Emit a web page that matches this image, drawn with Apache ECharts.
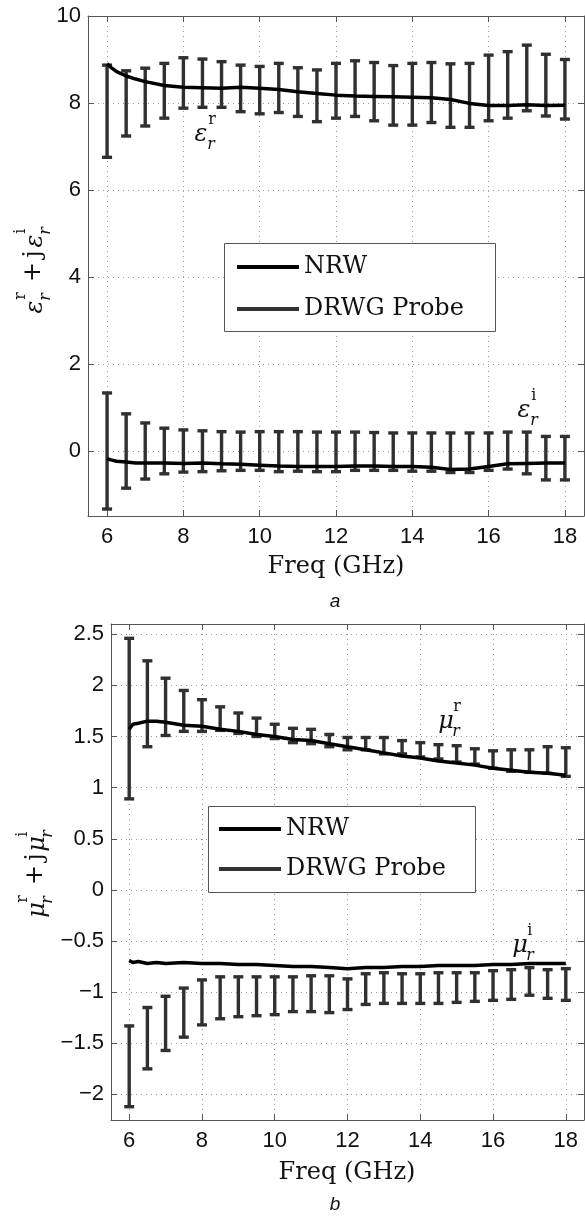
<!DOCTYPE html>
<html><head><meta charset="utf-8">
<script src="https://cdn.jsdelivr.net/npm/echarts@6/dist/echarts.min.js"></script>
<style>html,body{margin:0;padding:0;background:#fff}#c{width:585px;height:1216px}</style>
</head><body><div id="c"></div>
<script>
// ---------- data ----------
const barFreq = [6, 6.5, 7, 7.5, 8, 8.5, 9, 9.5, 10, 10.5, 11, 11.5, 12, 12.5, 13, 13.5, 14, 14.5, 15, 15.5, 16, 16.5, 17, 17.5, 18];
// DRWG Probe (error bars): permittivity
const epsRealHigh = [8.87, 8.74, 8.80, 8.91, 9.04, 9.01, 8.95, 8.87, 8.84, 8.91, 8.81, 8.76, 8.91, 8.97, 8.93, 8.86, 8.91, 8.93, 8.90, 8.91, 9.10, 9.18, 9.33, 9.12, 9.00];
const epsRealLow  = [6.75, 7.24, 7.47, 7.65, 7.88, 7.90, 7.90, 7.80, 7.75, 7.78, 7.69, 7.57, 7.65, 7.69, 7.59, 7.49, 7.49, 7.55, 7.44, 7.44, 7.59, 7.65, 7.82, 7.70, 7.63];
const epsImagHigh = [1.33, 0.85, 0.64, 0.52, 0.48, 0.46, 0.44, 0.43, 0.44, 0.44, 0.44, 0.43, 0.43, 0.43, 0.42, 0.41, 0.41, 0.41, 0.41, 0.41, 0.41, 0.43, 0.43, 0.33, 0.33];
const epsImagLow  = [-1.34, -0.86, -0.65, -0.53, -0.49, -0.48, -0.46, -0.45, -0.45, -0.48, -0.47, -0.48, -0.48, -0.45, -0.45, -0.45, -0.47, -0.47, -0.50, -0.50, -0.45, -0.42, -0.53, -0.67, -0.67];
// DRWG Probe (error bars): permeability
const muRealHigh = [2.46, 2.24, 2.07, 1.95, 1.86, 1.79, 1.73, 1.68, 1.62, 1.58, 1.57, 1.52, 1.49, 1.49, 1.49, 1.46, 1.44, 1.42, 1.41, 1.38, 1.36, 1.37, 1.37, 1.40, 1.39];
const muRealLow  = [0.89, 1.40, 1.51, 1.55, 1.55, 1.56, 1.53, 1.50, 1.48, 1.44, 1.43, 1.40, 1.37, 1.37, 1.33, 1.33, 1.30, 1.28, 1.25, 1.23, 1.19, 1.16, 1.15, 1.14, 1.11];
const muImagHigh = [-1.33, -1.15, -1.04, -0.96, -0.88, -0.85, -0.85, -0.85, -0.85, -0.85, -0.84, -0.84, -0.87, -0.82, -0.81, -0.82, -0.82, -0.81, -0.81, -0.81, -0.79, -0.78, -0.76, -0.78, -0.77];
const muImagLow  = [-2.12, -1.75, -1.57, -1.44, -1.32, -1.26, -1.24, -1.23, -1.22, -1.19, -1.19, -1.20, -1.17, -1.12, -1.11, -1.11, -1.11, -1.11, -1.10, -1.09, -1.08, -1.07, -1.03, -1.06, -1.08];
// NRW (solid lines)
const nrwFreq    = [6, 6.1, 6.25, 6.5, 6.75, 7, 7.5, 8, 8.5, 9, 9.5, 10, 10.5, 11, 11.5, 12, 12.5, 13, 13.5, 14, 14.5, 15, 15.5, 16, 16.5, 17, 17.5, 18];
const nrwEpsReal = [8.90, 8.82, 8.72, 8.62, 8.55, 8.49, 8.40, 8.36, 8.35, 8.34, 8.36, 8.34, 8.31, 8.26, 8.22, 8.18, 8.16, 8.15, 8.14, 8.13, 8.12, 8.08, 7.99, 7.94, 7.94, 7.96, 7.94, 7.95];
const nrwEpsImag = [-0.18, -0.21, -0.24, -0.26, -0.28, -0.28, -0.28, -0.29, -0.28, -0.30, -0.31, -0.33, -0.35, -0.36, -0.36, -0.36, -0.35, -0.35, -0.36, -0.36, -0.38, -0.43, -0.42, -0.36, -0.30, -0.29, -0.28, -0.28];
const nrwMuReal  = [1.57, 1.62, 1.63, 1.65, 1.65, 1.64, 1.61, 1.60, 1.57, 1.55, 1.52, 1.50, 1.47, 1.46, 1.43, 1.40, 1.37, 1.34, 1.31, 1.29, 1.26, 1.24, 1.22, 1.19, 1.17, 1.15, 1.14, 1.12];
const nrwMuImag  = [-0.69, -0.71, -0.70, -0.72, -0.71, -0.72, -0.71, -0.72, -0.72, -0.73, -0.73, -0.74, -0.75, -0.75, -0.76, -0.77, -0.76, -0.76, -0.75, -0.75, -0.74, -0.74, -0.74, -0.73, -0.73, -0.72, -0.72, -0.72];
const xTickLabels = ['6', '8', '10', '12', '14', '16', '18'];

// ---------- helpers ----------
const SANS = 'Liberation Sans, Arial, sans-serif';
const SERIF = 'DejaVu Serif, serif';
const FRAME = '#555';

function pairs(xs, ys) { return xs.map((x, i) => [x, ys[i]]); }
function triples(xs, lo, hi) { return xs.map((x, i) => [x, lo[i], hi[i]]); }

function errorBarItem(params, api) {
  const x = api.value(0), lo = api.value(1), hi = api.value(2);
  const pLo = api.coord([x, lo]), pHi = api.coord([x, hi]);
  const half = 5;
  const st = { stroke: '#303030', lineWidth: 3.4, fill: null };
  return { type: 'group', children: [
    { type: 'line', shape: { x1: pLo[0], y1: pLo[1], x2: pHi[0], y2: pHi[1] }, style: st },
    { type: 'line', shape: { x1: pHi[0] - half, y1: pHi[1], x2: pHi[0] + half, y2: pHi[1] }, style: st },
    { type: 'line', shape: { x1: pLo[0] - half, y1: pLo[1], x2: pLo[0] + half, y2: pLo[1] }, style: st }
  ]};
}

function minusFmt(v) { return String(v).replace('-', '\u2212'); }

function xAxes(grid) {
  const base = { gridIndex: grid, type: 'value', min: 5.5, max: 18.5, minInterval: 2, maxInterval: 2,
    axisLine: { show: true, onZero: false, lineStyle: { color: FRAME, width: 1 } },
    axisTick: { show: true, inside: true, length: 6, lineStyle: { color: FRAME } } };
  return [
    Object.assign({}, base, { position: 'bottom',
      axisLabel: { showMinLabel: false, showMaxLabel: false, fontSize: 22, fontFamily: SANS, color: '#111', margin: 10,
        formatter: v => xTickLabels.includes(String(v)) ? String(v) : '' },
      splitLine: { show: true, lineStyle: { type: [1, 4], color: '#999', width: 1 } } }),
    Object.assign({}, base, { position: 'top', axisLabel: { show: false }, splitLine: { show: false } })
  ];
}
function yAxes(grid, min, max, step, showMax) {
  const base = { gridIndex: grid, type: 'value', min: min, max: max, minInterval: step, maxInterval: step,
    axisLine: { show: true, onZero: false, lineStyle: { color: FRAME, width: 1 } },
    axisTick: { show: true, inside: true, length: 6, lineStyle: { color: FRAME } } };
  return [
    Object.assign({}, base, { position: 'left',
      axisLabel: { showMinLabel: false, showMaxLabel: showMax, fontSize: 22, fontFamily: SANS, color: '#111', margin: 7, formatter: minusFmt },
      splitLine: { show: true, lineStyle: { type: [1, 4], color: '#999', width: 1 } } }),
    Object.assign({}, base, { position: 'right', axisLabel: { show: false }, splitLine: { show: false } })
  ];
}

function txt(t, x, y, size, opts) {
  opts = opts || {};
  return { type: 'text', x: x, y: y, z: 10, style: {
    text: t, fontSize: size, fontFamily: opts.family || SERIF, fontStyle: opts.italic ? 'italic' : 'normal',
    fill: opts.fill || '#111', align: opts.align || 'center', verticalAlign: 'middle',
    textAlign: opts.align || 'center', textVerticalAlign: 'middle' } };
}
// symbol with superscript and subscript (e.g. epsilon_r^r)
function sym(g, sup, x, y, size) {
  const s = size * 0.66;
  return [
    txt(g, x, y, size, { italic: true }),
    txt(sup, x + size * 0.3, y - size * 0.62, s, { align: 'left' }),
    txt('r', x + size * 0.26, y + size * 0.42, s, { italic: true, align: 'left' })
  ];
}
function yTitle(g, cx, cy) {
  const children = []
    .concat(sym(g, 'r', -40, 0, 24))
    .concat([txt('+', -5, -2, 24), txt('j', 13, -2, 24)])
    .concat(sym(g, 'i', 26, 0, 24));
  return { type: 'group', x: cx, y: cy, rotation: Math.PI / 2, z: 10, children: children };
}

// ---------- chart ----------
const chart = echarts.init(document.getElementById('c'), null, { renderer: 'canvas' });
const legendCommon = {
  orient: 'vertical', itemWidth: 62, itemHeight: 4, selectedMode: false, z: 6, padding: 0,
  textStyle: { fontFamily: SERIF, fontSize: 24, lineHeight: 24, color: '#111' },
  data: [ { name: 'NRW', icon: 'rect', itemStyle: { color: '#000' } },
          { name: 'DRWG Probe', icon: 'rect', itemStyle: { color: '#333' } } ]
};

chart.setOption({
  animation: false,
  backgroundColor: '#fff',
  grid: [
    { left: 88, top: 16, width: 496, height: 500, show: false },
    { left: 111, top: 624, width: 473, height: 496, show: false }
  ],
  legend: [
    Object.assign({}, legendCommon, { left: 237, top: 255, itemGap: 18 }),
    Object.assign({}, legendCommon, { left: 219, top: 817, itemGap: 16 })
  ],
  xAxis: xAxes(0).concat(xAxes(1)),
  yAxis: yAxes(0, -1.5, 10, 2, true).concat(yAxes(1, -2.25, 2.6, 0.5, false)),
  series: [
    { name: 'DRWG Probe', type: 'custom', xAxisIndex: 0, yAxisIndex: 0, z: 2, renderItem: errorBarItem,
      encode: { x: 0, y: [1, 2] }, data: triples(barFreq, epsRealLow, epsRealHigh) },
    { name: 'DRWG Probe', type: 'custom', xAxisIndex: 0, yAxisIndex: 0, z: 2, renderItem: errorBarItem,
      encode: { x: 0, y: [1, 2] }, data: triples(barFreq, epsImagLow, epsImagHigh) },
    { name: 'DRWG Probe', type: 'custom', xAxisIndex: 2, yAxisIndex: 2, z: 2, renderItem: errorBarItem,
      encode: { x: 0, y: [1, 2] }, data: triples(barFreq, muRealLow, muRealHigh) },
    { name: 'DRWG Probe', type: 'custom', xAxisIndex: 2, yAxisIndex: 2, z: 2, renderItem: errorBarItem,
      encode: { x: 0, y: [1, 2] }, data: triples(barFreq, muImagLow, muImagHigh) },
    { name: 'NRW', type: 'line', xAxisIndex: 0, yAxisIndex: 0, z: 3, showSymbol: false, color: '#000',
      lineStyle: { color: '#000', width: 3.5 }, data: pairs(nrwFreq, nrwEpsReal) },
    { name: 'NRW', type: 'line', xAxisIndex: 0, yAxisIndex: 0, z: 3, showSymbol: false, color: '#000',
      lineStyle: { color: '#000', width: 3.5 }, data: pairs(nrwFreq, nrwEpsImag) },
    { name: 'NRW', type: 'line', xAxisIndex: 2, yAxisIndex: 2, z: 3, showSymbol: false, color: '#000',
      lineStyle: { color: '#000', width: 3.5 }, data: pairs(nrwFreq, nrwMuReal) },
    { name: 'NRW', type: 'line', xAxisIndex: 2, yAxisIndex: 2, z: 3, showSymbol: false, color: '#000',
      lineStyle: { color: '#000', width: 3.5 }, data: pairs(nrwFreq, nrwMuImag) }
  ],
  graphic: [
    { type: 'rect', z: 4, shape: { x: 224.5, y: 243.5, width: 271, height: 88 }, style: { fill: '#fff', stroke: FRAME, lineWidth: 1 } },
    { type: 'rect', z: 4, shape: { x: 208.5, y: 806.5, width: 267, height: 86 }, style: { fill: '#fff', stroke: FRAME, lineWidth: 1 } },
    ...sym('\u03b5', 'r', 201, 135, 24),
    ...sym('\u03b5', 'i', 524, 411, 24),
    ...sym('\u03bc', 'r', 446, 722, 24),
    ...sym('\u03bc', 'i', 520, 946, 24),
    yTitle('\u03b5', 36, 267),
    yTitle('\u03bc', 38, 870),
    txt('Freq (GHz)', 336, 567, 24),
    txt('Freq (GHz)', 347, 1173, 24),
    txt('a', 335, 602, 19, { family: SANS, italic: true }),
    txt('b', 335, 1205, 19, { family: SANS, italic: true })
  ]
});
</script>
</body></html>
